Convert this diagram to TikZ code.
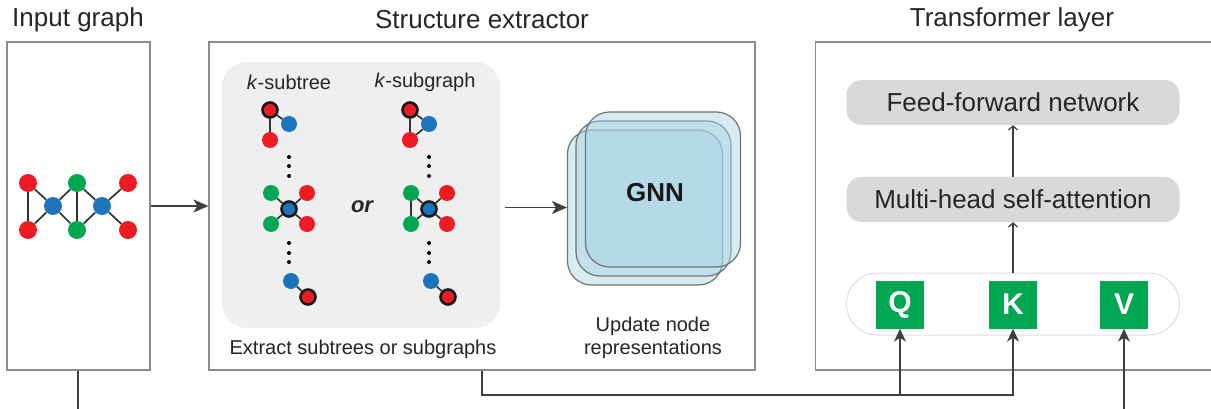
\documentclass[tikz,border=0pt]{standalone}
\usepackage{fontspec}
\setmainfont{Liberation Sans}
\usetikzlibrary{arrows.meta, calc}
\definecolor{cRed}{HTML}{ED1C24}
\definecolor{cBlue}{HTML}{1C75BC}
\definecolor{cGreen}{HTML}{00A651}
\definecolor{cPanel}{HTML}{8C8C8C}
\definecolor{cWire}{HTML}{3F3F3F}
\definecolor{cShade}{HTML}{EFEFEF}
\definecolor{cBlock}{HTML}{D9D9D9}
\definecolor{cGNN}{HTML}{A6D3E3}
\newcommand{\bigfont}{\fontsize{26}{30}\selectfont}
\newcommand{\smallfont}{\fontsize{20}{23}\selectfont}
\tikzset{
  panel/.style={draw=cPanel, line width=1.2pt, fill=white, inner sep=0pt},
  heading/.style={font=\bigfont, text=black!85},
  caption/.style={font=\smallfont, text=black!85, align=center},
  vtx/.style={circle, fill=#1, inner sep=0pt, minimum size=18pt},
  sv/.style={vtx=#1, minimum size=16pt},
  root/.style={draw=black!90, line width=2.6pt, minimum size=15pt},
  edge/.style={draw=black!80, line width=1.7pt},
  flow/.style={-{Stealth[length=15pt,width=13pt,inset=4pt]}, line width=1.3pt, draw=cWire},
  feed/.style={-{Stealth[length=13pt,width=12pt,inset=4pt]}, line width=1.4pt, draw=cWire},
  wire/.style={line width=1.4pt, draw=cWire},
  lift/.style={-{Straight Barb[length=4pt,width=9pt]}, line width=1.2pt, draw=cWire},
  layer/.style={draw=black!55, line width=1.2pt, fill=cGNN, fill opacity=0.45,
    rounded corners=24pt, minimum size=155pt},
  block/.style={fill=cBlock, rounded corners=15pt, minimum width=333pt,
    minimum height=45pt, font=\bigfont, text=black!85},
  token/.style={fill=cGreen, minimum size=48pt, inner sep=0pt,
    font=\fontsize{30}{30}\selectfont\bfseries, text=white}
}
% three small graphs of one column: top, middle and bottom root
\newcommand{\kgraphs}[1]{%
  \node[sv=cRed, root] (t1) at (270,110) {};
  \node[sv=cBlue] (t2) at (289,124) {};
  \node[sv=cRed] (t3) at (270,140) {};
  \node[sv=cBlue, root] (m0) at (289,209) {};
  \node[sv=cGreen] (m1) at (271,193) {};
  \node[sv=cRed] (m2) at (307,193) {};
  \node[sv=cGreen] (m3) at (271,224) {};
  \node[sv=cRed] (m4) at (307,224) {};
  \node[sv=cBlue] (b1) at (291,281) {};
  \node[sv=cRed, root] (b2) at (308,297) {};
  \draw[edge] (t1) -- (t2) (t1) -- (t3) (m0) -- (m1) (m0) -- (m2)
    (m0) -- (m3) (m0) -- (m4) (b1) -- (b2) #1;
  \foreach \y in {157,166,176,243,253,262} \fill (289,\y) circle (2pt);
}

\begin{document}
\begin{tikzpicture}[x=1pt, y=-1pt]
  \useasboundingbox (0,0) rectangle (1211,409);

  \node[heading] (tin) at (78,20) {Input graph};
  \node[heading] (tse) at (482,20) {Structure extractor};
  \node[heading] (ttf) at (1012,20) {Transformer layer};

  \node[panel, minimum width=143pt, minimum height=328pt] (inbox) at (78.5,206) {};
  \node[panel, minimum width=546pt, minimum height=328pt] (sebox) at (482,206) {};
  \node[panel, minimum width=400pt, minimum height=328pt, anchor=west] (tfbox) at (815,206) {};

  % input graph
  \node[vtx=cRed] (g1) at (28,183) {};
  \node[vtx=cRed] (g2) at (28,230) {};
  \node[vtx=cBlue] (g3) at (53,206) {};
  \node[vtx=cGreen] (g4) at (77,183) {};
  \node[vtx=cGreen] (g5) at (77,230) {};
  \node[vtx=cBlue] (g6) at (102,206) {};
  \node[vtx=cRed] (g7) at (128,183) {};
  \node[vtx=cRed] (g8) at (128,230) {};
  \draw[edge] (g1) -- (g2) (g1) -- (g3) (g2) -- (g3) (g3) -- (g4) (g3) -- (g5)
    (g4) -- (g5) (g4) -- (g6) (g5) -- (g6) (g6) -- (g7) (g6) -- (g8);

  % structure extractor
  \node[fill=cShade, rounded corners=25pt, minimum width=278pt, minimum height=266pt] (kbox) at (361,195) {};
  \node[caption] (lst) at (289,82) {\textit{k}-subtree};
  \node[caption] (lsg) at (425,82) {\textit{k}-subgraph};
  \begin{scope}[name prefix=st-]
    \kgraphs{}
  \end{scope}
  \begin{scope}[xshift=140pt, name prefix=sg-]
    \kgraphs{(t2) -- (t3) (m1) -- (m3)}
  \end{scope}
  \node[font=\fontsize{22}{24}\selectfont\bfseries\itshape, text=black!85] (orw) at (362,207) {or};
  \node[caption] (lex) at (363,349) {Extract subtrees or subgraphs};

  \node[layer] (gnnA) at (645,207.5) {};
  \node[layer] (gnnB) at (653.5,198.5) {};
  \node[layer] (gnnC) at (663,189.5) {};
  \node[font=\bigfont\bfseries, text=black!90] (gnnT) at (655,193) {GNN};
  \node[caption] (lup) at (653,338) {Update node\\representations};

  % transformer layer
  \node[block] (ffn) at (1013,102.5) {Feed-forward network};
  \node[block] (mhsa) at (1013,199.5) {Multi-head self-attention};
  \node[draw=black!12, line width=1pt, rounded corners=31pt, minimum width=333pt, minimum height=62pt] (qkv) at (1013,304) {};
  \node[token] (Q) at (900,304.5) {Q};
  \node[token] (K) at (1013,304.5) {K};
  \node[token] (V) at (1124,304.5) {V};

  \draw[flow] (inbox) -- (sebox);
  \draw[flow, shorten <=5pt] (kbox.east |- gnnA) -- (gnnA.west);
  \draw[lift] (mhsa) -- (ffn);
  \draw[lift] (qkv) -- (mhsa);

  \coordinate (bus) at (482,395);
  \coordinate (vin) at (1124,420);
  \coordinate (gout) at (78,420);
  \draw[feed] (sebox.south) -- (bus) -| (K);
  \draw[feed] (bus -| Q) -- (Q);
  \draw[feed] (vin) -- (V);
  \draw[wire] (inbox.south -| gout) -- (gout);
\end{tikzpicture}
\end{document}
